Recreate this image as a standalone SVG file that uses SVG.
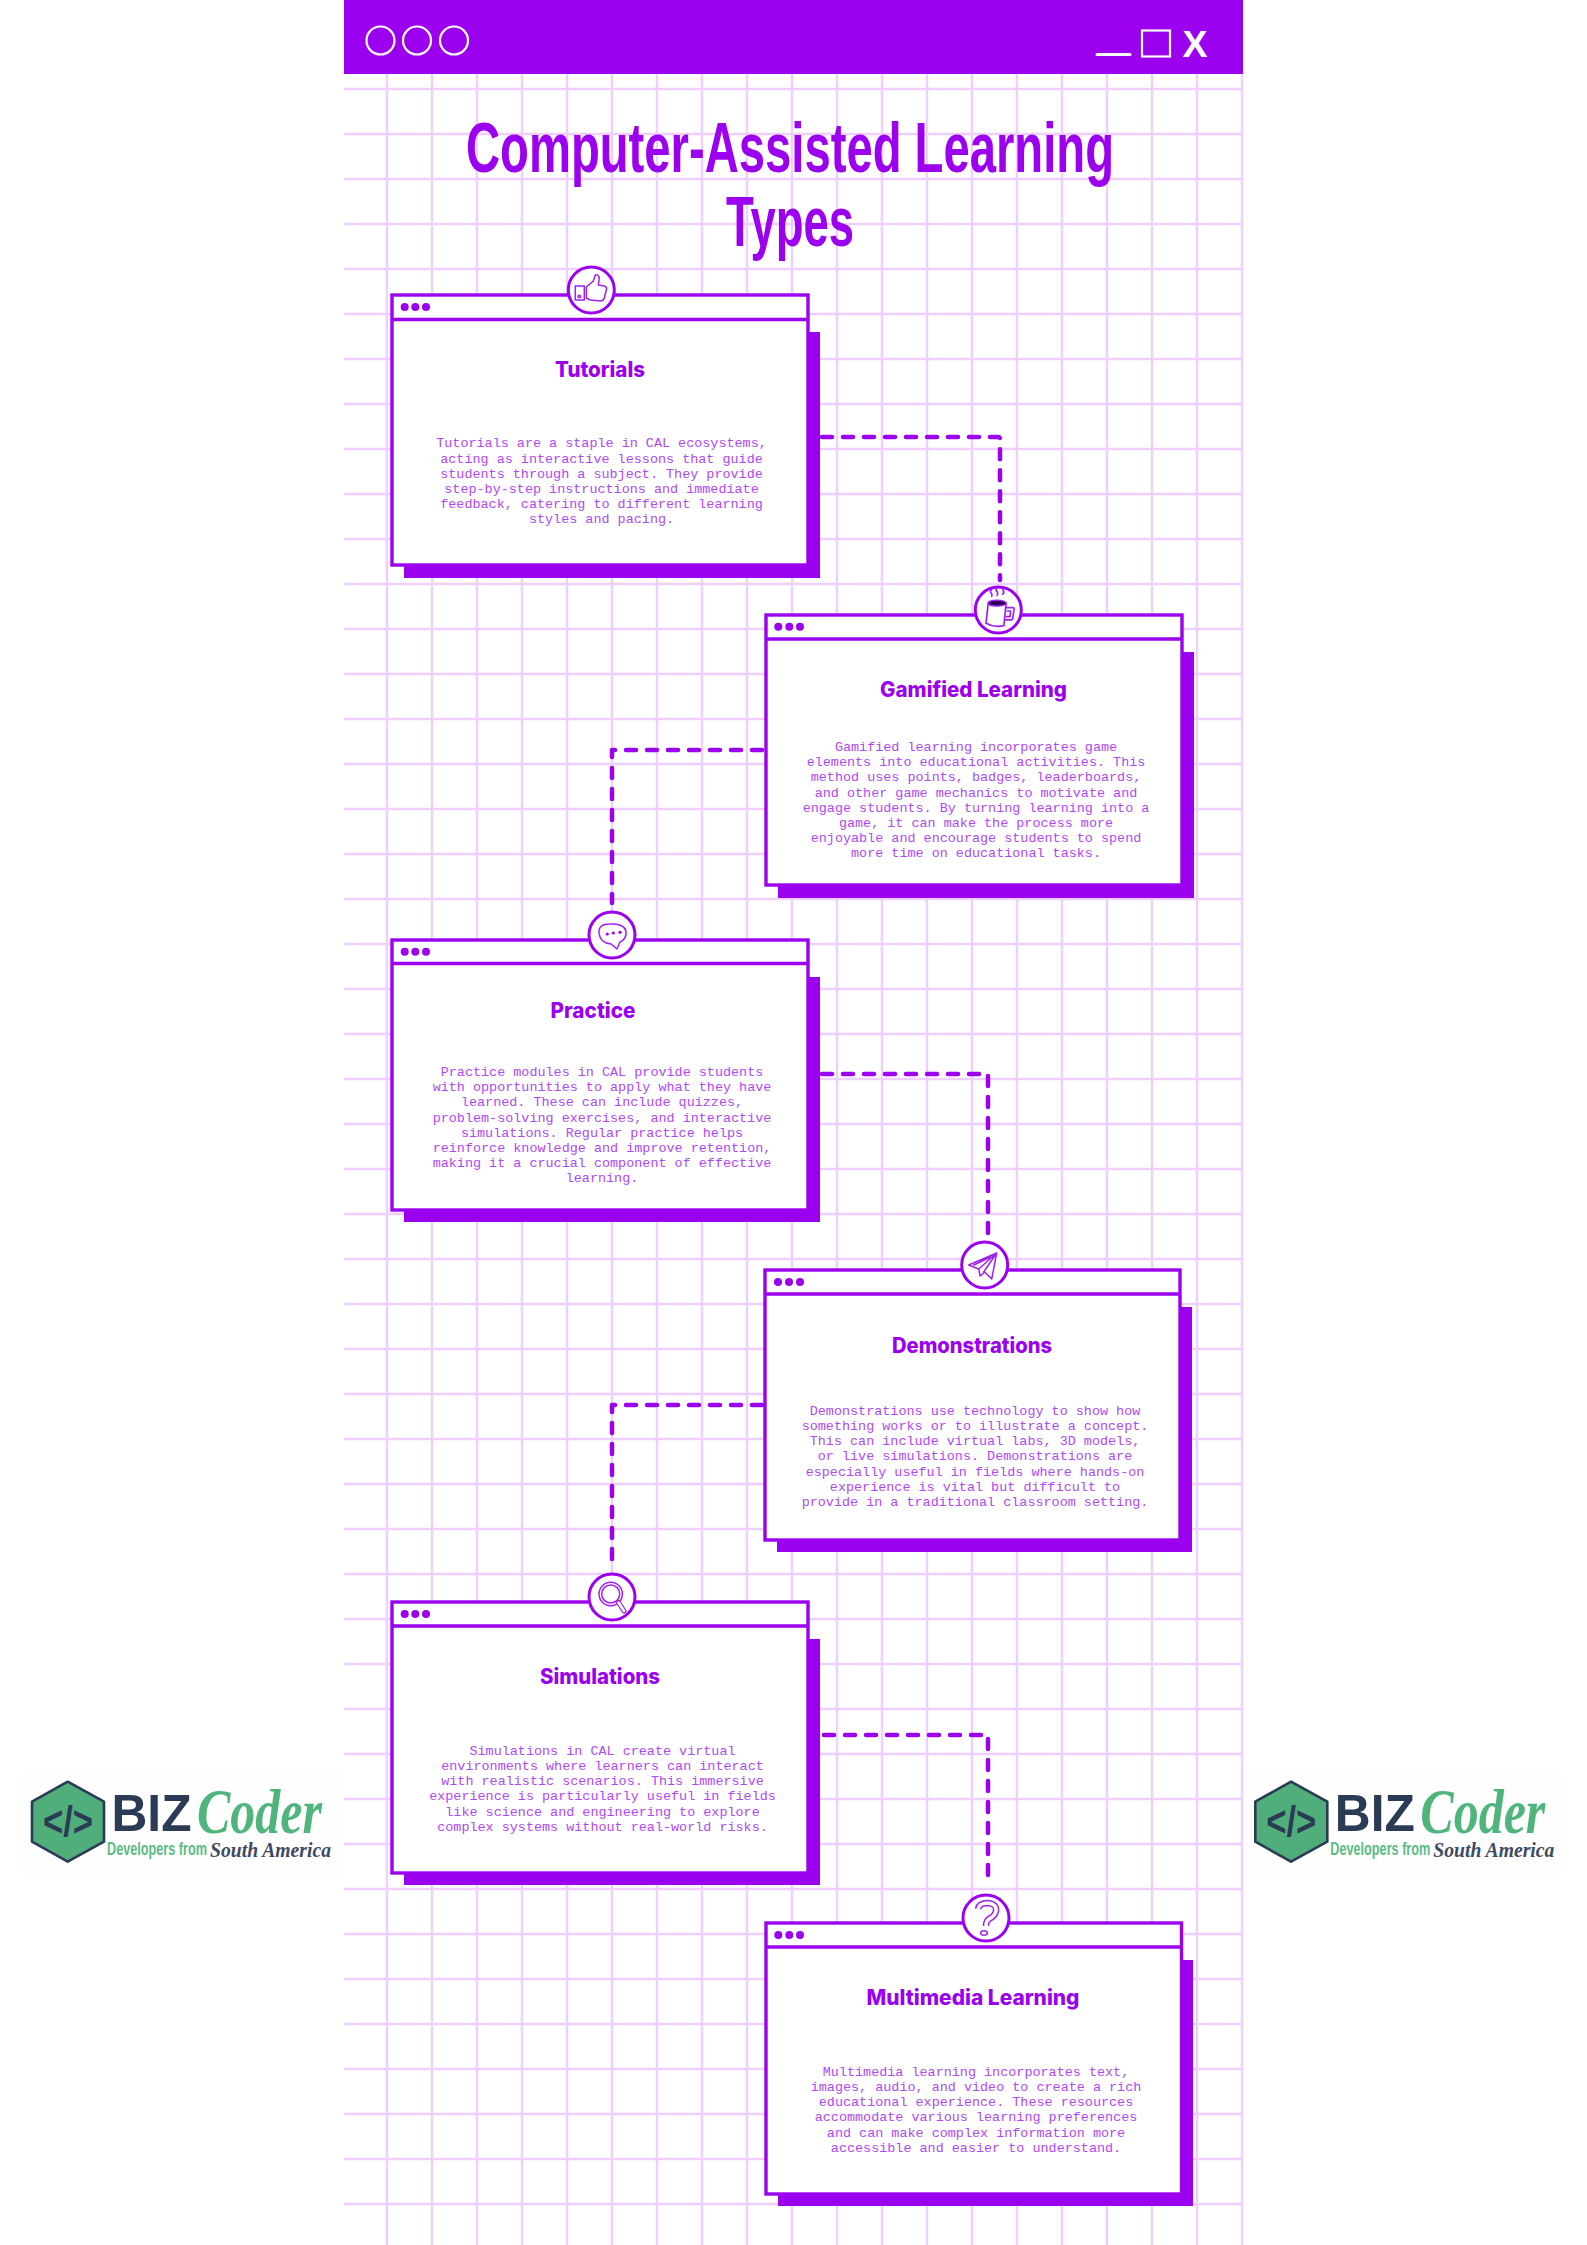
<svg xmlns="http://www.w3.org/2000/svg" width="1587" height="2245" viewBox="0 0 1587 2245">
<style>
.grid{stroke:#eecfff;stroke-width:2.4;fill:none}
.frame{fill:#fff;stroke:#9b00ef;stroke-width:3.4}
.shadow{fill:#9b00ef}
.disc{fill:#fff;stroke:#9b00ef;stroke-width:3}
.ico{fill:none;stroke:#a020f0;stroke-width:1.5;stroke-linejoin:round;stroke-linecap:round}
.icof{fill:#9b00ef}
.conn{fill:none;stroke:#9b00ef;stroke-width:4.5;stroke-dasharray:10 11;stroke-linecap:round;stroke-linejoin:round}
.h{font-family:"Inter","Liberation Sans",sans-serif;font-weight:800;font-size:21px;fill:#9b00ef;text-anchor:middle}
.b{font-family:"Liberation Mono",monospace;font-size:13.45px;fill:#b048f6;text-anchor:middle}
.t{font-family:"Liberation Sans",sans-serif;font-weight:700;font-size:70px;fill:#9b00ef;text-anchor:middle}
.w{fill:none;stroke:#fff;stroke-width:2.2}
.biz{font-family:"Liberation Sans",sans-serif;font-weight:700;font-size:51px;fill:#2b3a55}
.code{font-family:"Liberation Sans",sans-serif;font-weight:700;font-size:42px;fill:#2b3a55;text-anchor:middle}
.cod{font-family:"Liberation Serif",serif;font-style:italic;font-weight:700;font-size:64px;fill:#4fb57d}
.dev{font-family:"Liberation Sans",sans-serif;font-weight:700;font-size:18px;fill:#5cbb85}
.sa{font-family:"Liberation Serif",serif;font-style:italic;font-weight:700;font-size:20px;fill:#3e4a63}
.hex{fill:#4fae79;stroke:#2b3a55;stroke-width:2.6;stroke-linejoin:round}
</style>
<defs>
<path id="hgrid" class="grid" d="M344 89H1243M344 134H1243M344 179H1243M344 224H1243M344 269H1243M344 314H1243M344 359H1243M344 404H1243M344 449H1243M344 494H1243M344 539H1243M344 584H1243M344 629H1243M344 674H1243M344 719H1243M344 764H1243M344 809H1243M344 854H1243M344 899H1243M344 944H1243M344 989H1243M344 1034H1243M344 1079H1243M344 1124H1243M344 1169H1243M344 1214H1243M344 1259H1243M344 1304H1243M344 1349H1243M344 1394H1243M344 1439H1243M344 1484H1243M344 1529H1243M344 1574H1243M344 1619H1243M344 1664H1243M344 1709H1243M344 1754H1243M344 1799H1243M344 1844H1243M344 1889H1243M344 1934H1243M344 1979H1243M344 2024H1243M344 2069H1243M344 2114H1243M344 2159H1243M344 2204H1243"/>
<path id="vgrid" class="grid" d="M387 74V2245M432 74V2245M477 74V2245M522 74V2245M567 74V2245M612 74V2245M657 74V2245M702 74V2245M747 74V2245M792 74V2245M837 74V2245M882 74V2245M927 74V2245M972 74V2245M1017 74V2245M1062 74V2245M1107 74V2245M1152 74V2245M1197 74V2245M1242 74V2245"/>
</defs>
<rect width="1587" height="2245" fill="#fff"/>
<g id="background-grid"><use href="#hgrid"/><use href="#vgrid"/></g>
<g id="window-bar">
<rect x="344" y="0" width="899" height="74" fill="#9b00ef"/>
<circle class="w" cx="380.5" cy="40.5" r="14"/><circle class="w" cx="417" cy="40.5" r="14"/><circle class="w" cx="454" cy="40.5" r="14"/>
<path d="M1097 54.5H1130" stroke="#fff" stroke-width="3" stroke-linecap="round"/>
<rect class="w" x="1142" y="30.5" width="28" height="26" stroke-width="2.6"/>
<text x="1195" y="57" font-family="Liberation Sans, sans-serif" font-weight="700" font-size="37" fill="#fff" text-anchor="middle" textLength="25" lengthAdjust="spacingAndGlyphs">X</text>
</g>
<g id="title">
<text class="t" x="790" y="172" textLength="648" lengthAdjust="spacingAndGlyphs">Computer-Assisted Learning</text>
<text class="t" x="790" y="246" textLength="128" lengthAdjust="spacingAndGlyphs">Types</text>
</g>
<g id="connectors">
<path class="conn" d="M822 437H998Q1000 437 1000 439V580"/>
<path class="conn" d="M762 750H612V903"/>
<path class="conn" d="M822 1074H988V1238"/>
<path class="conn" d="M762 1405H612V1569"/>
<path class="conn" d="M824 1735H988V1884"/>
</g>
<g id="node-tutorials">
<rect class="shadow" x="404" y="332" width="416" height="246"/>
<rect class="frame" x="392" y="295" width="416" height="270"/>
<path d="M392 319.5H808" stroke="#9b00ef" stroke-width="3.4"/>
<circle class="icof" cx="404.7" cy="307" r="4"/><circle class="icof" cx="415.3" cy="307" r="4"/><circle class="icof" cx="426" cy="307" r="4"/>
<circle class="disc" cx="591.3" cy="290" r="23"/>
<g transform="translate(591.3 290)"><rect class="ico" x="-16" y="-4" width="9" height="14"/><circle class="ico" cx="-12" cy="6.5" r="1.2"/><path class="ico" d="M-5 -3L2 -9L4 -15Q7 -16 8 -12L7 -5L13 -4Q16 -3 15 0L13 8Q12 11 9 11L-1 10L-5 8Z"/></g>
<text class="h" x="600" y="377" textLength="90" lengthAdjust="spacingAndGlyphs">Tutorials</text>
<text class="b" x="601.5" y="447.3">Tutorials are a staple in CAL ecosystems,</text>
<text class="b" x="601.5" y="462.5">acting as interactive lessons that guide</text>
<text class="b" x="601.5" y="477.7">students through a subject. They provide</text>
<text class="b" x="601.5" y="492.9">step-by-step instructions and immediate</text>
<text class="b" x="601.5" y="508.1">feedback, catering to different learning</text>
<text class="b" x="601.5" y="523.3">styles and pacing.</text>
</g>
<g id="node-gamified">
<rect class="shadow" x="778" y="652" width="416" height="246"/>
<rect class="frame" x="766" y="615" width="416" height="270"/>
<path d="M766 639H1182" stroke="#9b00ef" stroke-width="3.4"/>
<circle class="icof" cx="778.3" cy="626.7" r="4"/><circle class="icof" cx="789.3" cy="626.7" r="4"/><circle class="icof" cx="800" cy="626.7" r="4"/>
<circle class="disc" cx="998.3" cy="610" r="23"/>
<g transform="translate(998.3 611) scale(1.12)"><path class="ico" d="M-9 -7L-11 11Q-4 15 5 13L7 -7"/><ellipse cx="-1" cy="-7" rx="8" ry="2.6" fill="#2a0050" stroke="#a020f0" stroke-width="1.2"/><path class="ico" d="M7 -3L13 -3Q14.5 -3 14 -1L13 6Q13 8 11 8L6 8M8 0L11 0L10.5 5L7 5"/><path class="ico" d="M-6 -19Q-8 -17 -6 -15.5Q-5 -14 -6 -13M-1 -21Q-3 -19 -1 -17Q0 -15 -1 -14M4 -19Q6 -17 4 -15"/></g>
<text class="h" x="973.5" y="697" textLength="187" lengthAdjust="spacingAndGlyphs">Gamified Learning</text>
<text class="b" x="976" y="751">Gamified learning incorporates game</text>
<text class="b" x="976" y="766.2">elements into educational activities. This</text>
<text class="b" x="976" y="781.4">method uses points, badges, leaderboards,</text>
<text class="b" x="976" y="796.6">and other game mechanics to motivate and</text>
<text class="b" x="976" y="811.8">engage students. By turning learning into a</text>
<text class="b" x="976" y="827">game, it can make the process more</text>
<text class="b" x="976" y="842.2">enjoyable and encourage students to spend</text>
<text class="b" x="976" y="857.4">more time on educational tasks.</text>
</g>
<g id="node-practice">
<rect class="shadow" x="404" y="977" width="416" height="245"/>
<rect class="frame" x="392" y="940" width="416" height="270"/>
<path d="M392 963.5H808" stroke="#9b00ef" stroke-width="3.4"/>
<circle class="icof" cx="404.7" cy="951.7" r="4"/><circle class="icof" cx="415.3" cy="951.7" r="4"/><circle class="icof" cx="426" cy="951.7" r="4"/>
<circle class="disc" cx="612" cy="935" r="23"/>
<g transform="translate(612 935)"><path class="ico" d="M-13 -2Q-14 -11 -2 -11Q12 -12 14 -4Q15 4 8 7L5 14L-1 9Q-12 8 -13 -2Z"/><circle class="icof" cx="-4.7" cy="-1" r="1.6"/><circle class="icof" cx="1.3" cy="-2" r="1.6"/><circle class="icof" cx="8" cy="-2.7" r="1.6"/></g>
<text class="h" x="593" y="1018" textLength="85" lengthAdjust="spacingAndGlyphs">Practice</text>
<text class="b" x="602" y="1076">Practice modules in CAL provide students</text>
<text class="b" x="602" y="1091.2">with opportunities to apply what they have</text>
<text class="b" x="602" y="1106.4">learned. These can include quizzes,</text>
<text class="b" x="602" y="1121.6">problem-solving exercises, and interactive</text>
<text class="b" x="602" y="1136.8">simulations. Regular practice helps</text>
<text class="b" x="602" y="1152">reinforce knowledge and improve retention,</text>
<text class="b" x="602" y="1167.2">making it a crucial component of effective</text>
<text class="b" x="602" y="1182.4">learning.</text>
</g>
<g id="node-demonstrations">
<rect class="shadow" x="777" y="1307" width="415" height="245"/>
<rect class="frame" x="765" y="1270" width="415" height="270"/>
<path d="M765 1294H1180" stroke="#9b00ef" stroke-width="3.4"/>
<circle class="icof" cx="778" cy="1282" r="4"/><circle class="icof" cx="789" cy="1282" r="4"/><circle class="icof" cx="800" cy="1282" r="4"/>
<circle class="disc" cx="984.7" cy="1265" r="23"/>
<g transform="translate(984.7 1265)"><path class="ico" d="M12 -12L-16 0L-6 4L-4.5 11L0 7L7 14ZM12 -12L-6 4M12 -12L-1 7M-11 0L6 -8"/></g>
<text class="h" x="972" y="1353" textLength="160" lengthAdjust="spacingAndGlyphs">Demonstrations</text>
<text class="b" x="975" y="1414.8">Demonstrations use technology to show how</text>
<text class="b" x="975" y="1430">something works or to illustrate a concept.</text>
<text class="b" x="975" y="1445.2">This can include virtual labs, 3D models,</text>
<text class="b" x="975" y="1460.4">or live simulations. Demonstrations are</text>
<text class="b" x="975" y="1475.6">especially useful in fields where hands-on</text>
<text class="b" x="975" y="1490.8">experience is vital but difficult to</text>
<text class="b" x="975" y="1506">provide in a traditional classroom setting.</text>
</g>
<g id="node-simulations">
<rect class="shadow" x="404" y="1639" width="416" height="246"/>
<rect class="frame" x="392" y="1602" width="416" height="271"/>
<path d="M392 1626H808" stroke="#9b00ef" stroke-width="3.4"/>
<circle class="icof" cx="404.7" cy="1614" r="4"/><circle class="icof" cx="415.3" cy="1614" r="4"/><circle class="icof" cx="426" cy="1614" r="4"/>
<circle class="disc" cx="612" cy="1597" r="23"/>
<g transform="translate(612 1597)"><circle class="ico" cx="-1.3" cy="-3" r="11.7"/><circle class="ico" cx="-1.3" cy="-3" r="9"/><path d="M6.5 5.5L12 14" stroke="#a020f0" stroke-width="5" stroke-linecap="round"/><path d="M6.5 5.5L12 14" stroke="#fff" stroke-width="2.6" stroke-linecap="round"/></g>
<text class="h" x="600" y="1684" textLength="120" lengthAdjust="spacingAndGlyphs">Simulations</text>
<text class="b" x="602.5" y="1754.8">Simulations in CAL create virtual</text>
<text class="b" x="602.5" y="1770">environments where learners can interact</text>
<text class="b" x="602.5" y="1785.2">with realistic scenarios. This immersive</text>
<text class="b" x="602.5" y="1800.4">experience is particularly useful in fields</text>
<text class="b" x="602.5" y="1815.6">like science and engineering to explore</text>
<text class="b" x="602.5" y="1830.8">complex systems without real-world risks.</text>
</g>
<g id="node-multimedia">
<rect class="shadow" x="778" y="1960" width="415" height="246"/>
<rect class="frame" x="766" y="1923" width="415.5" height="271"/>
<path d="M766 1947H1181" stroke="#9b00ef" stroke-width="3.4"/>
<circle class="icof" cx="778.3" cy="1935" r="4"/><circle class="icof" cx="789.3" cy="1935" r="4"/><circle class="icof" cx="800" cy="1935" r="4"/>
<circle class="disc" cx="986" cy="1918" r="23"/>
<g transform="translate(986 1918)"><path d="M-8 -9Q-7 -15 2 -15Q11 -14 10 -7Q9 -2 3 1Q0 3 0 8" fill="none" stroke="#a020f0" stroke-width="6.5"/><path d="M-8 -9Q-7 -15 2 -15Q11 -14 10 -7Q9 -2 3 1Q0 3 0 8" fill="none" stroke="#fff" stroke-width="3.6"/><ellipse class="ico" cx="-2" cy="15" rx="3.4" ry="2.3"/></g>
<text class="h" x="973" y="2005" textLength="213" lengthAdjust="spacingAndGlyphs">Multimedia Learning</text>
<text class="b" x="976" y="2075.7">Multimedia learning incorporates text,</text>
<text class="b" x="976" y="2090.9">images, audio, and video to create a rich</text>
<text class="b" x="976" y="2106.1">educational experience. These resources</text>
<text class="b" x="976" y="2121.3">accommodate various learning preferences</text>
<text class="b" x="976" y="2136.5">and can make complex information more</text>
<text class="b" x="976" y="2151.7">accessible and easier to understand.</text>
</g>
<g id="logo-left">
<rect x="20" y="1772" width="322" height="103" fill="#fdfefd"/>
<path class="hex" d="M67.7 1781.7L104 1801.7V1841.7L67.7 1861.7L32 1841.7V1801.7Z"/>
<text class="code" x="68" y="1836" textLength="50" lengthAdjust="spacingAndGlyphs">&lt;/&gt;</text>
<text class="biz" x="111.5" y="1831" textLength="80" lengthAdjust="spacingAndGlyphs">BIZ</text>
<text class="cod" x="197" y="1833" textLength="125" lengthAdjust="spacingAndGlyphs">Coder</text>
<text class="dev" x="107" y="1855" textLength="100" lengthAdjust="spacingAndGlyphs">Developers from</text>
<text class="sa" x="210" y="1856.5" textLength="121" lengthAdjust="spacingAndGlyphs">South America</text>
</g>
<g id="logo-right">
<rect x="1247" y="1772" width="318" height="103" fill="#fdfefd"/>
<path class="hex" d="M1291 1781.7L1327.3 1801.7V1841.7L1291 1861.7L1255.3 1841.7V1801.7Z"/>
<text class="code" x="1291.3" y="1836" textLength="50" lengthAdjust="spacingAndGlyphs">&lt;/&gt;</text>
<text class="biz" x="1334.8" y="1831" textLength="80" lengthAdjust="spacingAndGlyphs">BIZ</text>
<text class="cod" x="1420.3" y="1833" textLength="125" lengthAdjust="spacingAndGlyphs">Coder</text>
<text class="dev" x="1330.3" y="1855" textLength="100" lengthAdjust="spacingAndGlyphs">Developers from</text>
<text class="sa" x="1433.3" y="1856.5" textLength="121" lengthAdjust="spacingAndGlyphs">South America</text>
</g>
</svg>
